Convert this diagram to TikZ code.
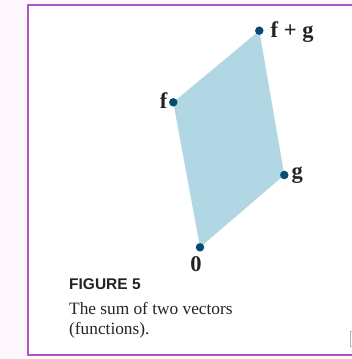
\documentclass[tikz,border=0pt]{standalone}
\usepackage{fontspec}
\setmainfont{Liberation Serif}
\newfontfamily\capsans{Liberation Sans}
\definecolor{framec}{RGB}{178,82,200}
\definecolor{bgout}{RGB}{253,246,253}
\definecolor{fillb}{RGB}{176,215,227}
\definecolor{dotb}{RGB}{8,75,115}
\definecolor{inkc}{RGB}{35,35,35}
\begin{document}
\begin{tikzpicture}[x=1pt,y=-1pt,
  dotnode/.style={circle,fill=dotb,inner sep=0pt,minimum size=8.5pt},
  lbl/.style={font=\fontsize{22.5}{22.5}\selectfont\bfseries, inner sep=0pt, text=inkc},
  captxt/.style={font=\fontsize{17.3}{20}\selectfont, inner sep=0pt, anchor=base west, text=inkc}]
\useasboundingbox (0,0) rectangle (352,359);
\clip (0,0) rectangle (352,359);
\fill[bgout] (0,0) rectangle (352,359);
\fill[white] (28,5) rectangle (362,355);
\draw[framec, line width=2.4pt] (28,5.2) rectangle (362,355);
\coordinate (o) at (200,247.3);
\coordinate (g) at (284.3,175);
\coordinate (fg) at (259.3,30.7);
\coordinate (f) at (173.3,102.3);
\fill[fillb] (o) -- (g) -- (fg) -- (f) -- cycle;
\node[dotnode] (O) at (o) {};
\node[dotnode] (G) at (g) {};
\node[dotnode] (FG) at (fg) {};
\node[dotnode] (F) at (f) {};
\node[lbl, anchor=base west] (Lfg) at (270.5,37.5) {f + g};
\node[lbl, anchor=base east] (Lf) at (167.5,108) {f};
\node[lbl, anchor=base west] (Lg) at (291.5,178) {g};
\node[lbl, anchor=base] (L0) at (196,271.5) {0};
\node[font=\capsans\bfseries\fontsize{15.5}{15.5}\selectfont, anchor=base west, inner sep=0pt, text=inkc] (fig) at (69,289) {FIGURE 5};
\node[captxt] (c1) at (69,314) {The sum of two vectors};
\node[captxt] (c2) at (69,334) {(functions).};
\draw[gray!60, line width=1pt] (358,331) -- (350.5,331) -- (350.5,346) -- (358,346);
\end{tikzpicture}
\end{document}
